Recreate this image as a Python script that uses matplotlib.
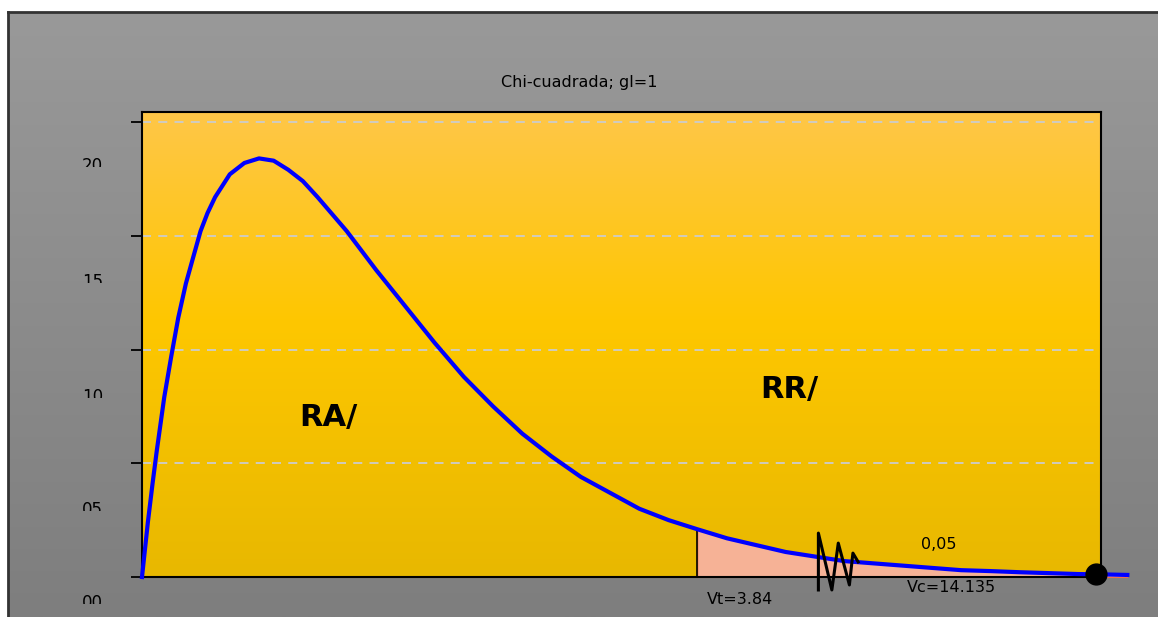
import numpy as np
import matplotlib
matplotlib.use("Agg")
import matplotlib.pyplot as plt
from matplotlib.transforms import Bbox

# curve (x value, density)
chi_x = [0.0, 0.05, 0.1, 0.18, 0.25, 0.38, 0.5, 0.62, 0.75, 0.88, 1.0, 1.12, 1.25,
         1.5, 1.75, 2.0, 2.25, 2.5, 2.75, 3.0, 3.5, 4.0, 4.5, 5.0, 5.5, 6.0, 6.5,
         7.0, 7.5, 8.0, 8.5, 9.0, 9.49, 10.0, 10.5, 11.0, 11.5, 12.0, 12.5, 13.0,
         13.5, 14.0, 14.5, 15.0, 15.5, 16.0, 16.5, 16.84]
chi_y = [0.0, 0.012, 0.024, 0.041, 0.055, 0.079, 0.097, 0.114, 0.129, 0.141, 0.152,
         0.160, 0.167, 0.177, 0.182, 0.184, 0.183, 0.179, 0.174, 0.167, 0.152,
         0.135, 0.119, 0.103, 0.088, 0.075, 0.063, 0.053, 0.044, 0.037, 0.030,
         0.025, 0.021, 0.017, 0.014, 0.011, 0.009, 0.007, 0.006, 0.005, 0.004,
         0.003, 0.0026, 0.0021, 0.0017, 0.0013, 0.0011, 0.0009]

y_ticks = [0.0, 0.05, 0.10, 0.15, 0.20]
y_tick_text = ["00", "05", "10", "15", "20"]

vt = 9.49          # limit of the acceptance region
vt_label = "Vt=3.84"
vc = 16.3          # observed value (dot)
vc_label = "Vc=14.135"
alpha_label = "0,05"
title = "Chi-cuadrada; gl=1"

# hand-drawn break mark on the axis
zig_x = [11.56, 11.56, 11.79, 11.90, 12.09, 12.15, 12.24]
zig_y = [-0.0057, 0.0193, -0.0057, 0.0149, -0.0035, 0.0105, 0.0066]

W, H = 1158, 617
fig = plt.figure(figsize=(W / 100, H / 100), dpi=100)
fig.patch.set_facecolor("white")

# grey panel behind everything
bg = fig.add_axes([8 / W, 0, 1 - 8 / W, 1 - 12 / H], zorder=0)
g = np.linspace(0, 1, 256)[:, None]
gray = np.dstack([153 - 27 * g, 153 - 27 * g, 153 - 27 * g]) / 255
bg.imshow(gray, aspect="auto", extent=[0, 1, 0, 1])
bg.set_xticks([])
bg.set_yticks([])
for s in ["right", "bottom"]:
    bg.spines[s].set_visible(False)
for s in ["left", "top"]:
    bg.spines[s].set_color("#333333")
    bg.spines[s].set_linewidth(2)

ax = fig.add_axes([142 / W, 40 / H, (1101 - 142) / W, (577 - 112) / H], zorder=1)
stops = [0, 0.45, 1]
cols = np.array([[255, 198, 72], [254, 199, 0], [232, 184, 0]]) / 255
gg = g[:, 0]
orange = np.stack([np.interp(gg, stops, cols[:, k]) for k in range(3)], axis=1)
ax.imshow(orange[:, None, :], aspect="auto", extent=[0, 1, 0, 1],
          transform=ax.transAxes, zorder=0)

ax.set_xlim(0, 16.39)
ax.set_ylim(0, 0.2044)

for v in y_ticks[1:]:
    ax.axhline(v, color="#cccccc", lw=1.3, ls=(0, (5, 4)), zorder=1)

# rejection region
cx = np.array(chi_x)
cy = np.array(chi_y)
m = cx >= vt
ax.fill_between(cx[m], 0, cy[m], facecolor="#f6b296", edgecolor="#f07050",
                lw=0.8, zorder=2, clip_on=False)
ax.plot([vt, vt], [0, cy[cx == vt][0]], color="black", lw=1.2, zorder=3)
ax.plot(cx, cy, color="#0000ff", lw=3, zorder=4, clip_on=False)

ax.plot(zig_x, zig_y, color="black", lw=2.2, zorder=5, clip_on=False)
ax.plot([vc], [0.0015], "o", color="black", ms=15, zorder=6, clip_on=False)

ax.text(3.18, 0.0703, "RA/", fontsize=22, fontweight="bold", ha="center", va="center")
ax.text(11.06, 0.0822, "RR/", fontsize=22, fontweight="bold", ha="center", va="center")
ax.text(13.62, 0.0145, alpha_label, fontsize=11.5, ha="center", va="center")
ax.text(10.22, -0.0097, vt_label, fontsize=11.5, ha="center", va="center", clip_on=False)
ax.text(13.84, -0.0048, vc_label, fontsize=11.5, ha="center", va="center", clip_on=False)

fig.text(0.5, 1 - 82 / H, title, fontsize=11.5, ha="center", va="center")

ax.set_xticks([])
ax.set_yticks(y_ticks)
ax.set_yticklabels([])
ax.tick_params(axis="y", length=8, width=1.3, color="black", direction="out")
for s in ax.spines.values():
    s.set_color("black")
    s.set_linewidth(1.5)

# tick labels sit below their grid lines and are cut off at the bottom
drop = [17, 38, 38, 37, 35]
for v, t, d in zip(y_ticks, y_tick_text, drop):
    py = 577 - v / 0.2044 * 465
    txt = fig.text(103 / W, 1 - (py + d) / H, t, fontsize=12, ha="right", va="top")
    cut = H - (py + d + 10)
    txt.set_clip_box(Bbox([[0, cut], [W, H]]))
    txt.set_clip_on(True)

fig.savefig("out.png", dpi=100)
